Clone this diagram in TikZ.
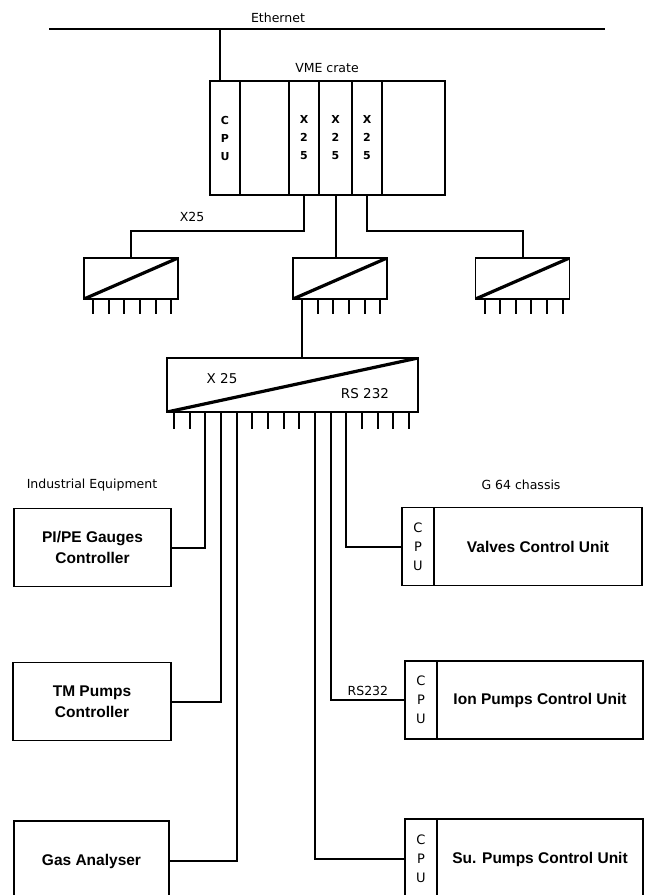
\documentclass[tikz,border=0pt]{standalone}
\usepackage{fontspec}
\setmainfont{DejaVu Sans}
\newfontfamily\helv{Liberation Sans}
\usetikzlibrary{positioning,calc}

\tikzset{
  lab/.style={font=\fontsize{12.5}{15}\selectfont},
  slot/.style={draw, line width=1.6pt, minimum height=114pt, inner sep=0pt, align=center, font=\bfseries\fontsize{11}{18}\selectfont},
  conv/.style={draw, line width=1.8pt, minimum width=94pt, minimum height=41pt, inner sep=0pt,
    path picture={\draw[line width=3.2pt] (path picture bounding box.south west) -- (path picture bounding box.north east);}},
  unit/.style={draw, line width=1.8pt, outer sep=0pt, minimum height=78pt, align=center, font=\helv\bfseries\fontsize{15.5}{21}\selectfont},
  cpubox/.style={draw, line width=1.8pt, outer sep=0pt, minimum width=32pt, minimum height=78pt, inner sep=0pt, align=center, font=\fontsize{13}{19}\selectfont},
  wire/.style={line width=2pt},
}

\begin{document}
\begin{tikzpicture}[x=1pt, y=-1pt]
\useasboundingbox (0,0) rectangle (645,895);
\clip (0,0) rectangle (645,895);

% Ethernet
\coordinate (ethL) at (49,29);
\coordinate (ethR) at (605,29);
\draw[line width=2.6pt] (ethL) -- (ethR);
\node[lab] (ethlab) at (278,18) {Ethernet};

% VME crate
\node[lab] (vmelab) at (327,68) {VME crate};
\node[slot, minimum width=30pt] (cpu) at (225,138) {C\\P\\U};
\node[slot, minimum width=49pt] (free1) at (264.5,138) {};
\node[slot, minimum width=30pt] (xa) at (304,138) {X\\2\\5};
\node[slot, minimum width=33pt] (xb) at (335.5,138) {X\\2\\5};
\node[slot, minimum width=30pt] (xc) at (367,138) {X\\2\\5};
\node[slot, minimum width=63pt] (free2) at (413.5,138) {};
\coordinate (tap) at (220,29);
\draw[wire] (tap) -- (tap |- cpu.north);

% X25 converters
\node[conv] (convL) at (131,278.5) {};
\node[conv] (convM) at (340,278.5) {};
\node[conv] (convR) at (522.5,278.5) {};
\node[lab] (x25lab) at (192,217) {X25};
\draw[wire] (xa.south) -- ++(0,35) -| (convL.north);
\draw[wire] (xb.south) -- (xb.south |- convM.north);
\draw[wire] (xc.south) -- ++(0,35) -| (convR.north);
\foreach \c in {convL,convM,convR}
  \foreach \i in {0,...,5}
    \draw[wire] ($(\c.south west)+(10+15.6*\i,0)$) -- ++(0,14);

% X25 / RS 232 converter
\node[conv, minimum width=251pt, minimum height=54pt] (big) at (292.5,385) {};
\node[lab, font=\fontsize{13.5}{16}\selectfont] (x25in) at (222,379) {X 25};
\node[lab, font=\fontsize{13.5}{16}\selectfont] (rsin) at (365,394) {RS 232};
\coordinate (mpin) at ($(convM.south west)+(10,0)$);
\draw[wire] (mpin) -- (mpin |- big.north);
\foreach \i in {0,...,15}{
  \coordinate (bp\i) at ($(big.south west)+(8+15.67*\i,0)$);
  \draw[wire] (bp\i) -- ++(0,16);
}

% Industrial equipment
\node[lab] (indlab) at (92,485) {Industrial Equipment};
\node[unit, minimum width=157pt] (pipe) at (92.5,547.5) {PI/PE Gauges\\Controller};
\node[unit, minimum width=158pt] (tmp) at (92,701.5) {TM Pumps\\Controller};
\node[unit, minimum width=155pt, minimum height=80pt] (gas) at (91.5,861) {Gas Analyser};
\draw[wire] (bp2) |- (pipe.east);
\draw[wire] (bp3) |- (tmp.east);
\draw[wire] (bp4) |- (gas.east);

% G 64 chassis
\node[lab] (g64lab) at (521,485) {G 64 chassis};
\node[cpubox] (vcpu) at (418,546.5) {C\\P\\U};
\node[unit, minimum width=208pt, right=0pt of vcpu] (valves) {Valves Control Unit};
\node[cpubox] (icpu) at (421,700) {C\\P\\U};
\node[unit, minimum width=206pt, right=0pt of icpu] (ion) {Ion Pumps Control Unit};
\node[cpubox, minimum height=80pt] (scpu) at (421,859) {C\\P\\U};
\node[unit, minimum width=206pt, minimum height=80pt, right=0pt of scpu] (sub) {Su. Pumps Control Unit};
\draw[wire] (bp11) |- (vcpu.west);
\draw[wire] (bp10) |- node[lab, pos=0.75, above] (rslab) {RS232} (icpu.west);
\draw[wire] (bp9) |- (scpu.west);

\end{tikzpicture}
\end{document}
